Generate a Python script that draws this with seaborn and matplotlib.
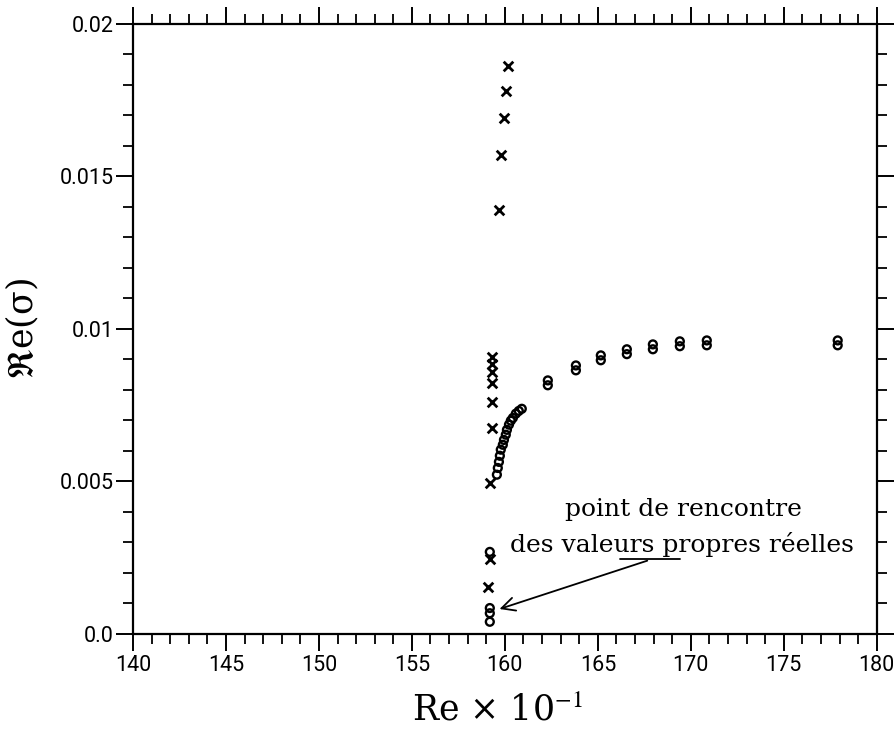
import matplotlib
matplotlib.use("Agg")
import matplotlib.pyplot as plt
from matplotlib.ticker import MultipleLocator
import seaborn as sns
import pandas as pd

# Crosses (x markers)
re_cross = [160.16, 160.05, 159.95, 159.78, 159.68,
            159.30, 159.30, 159.30, 159.30, 159.30, 159.30, 159.19,
            159.19, 159.09]
sig_cross = [0.0186, 0.0178, 0.0169, 0.0157, 0.0139,
             0.00909, 0.00886, 0.00859, 0.00823, 0.00761, 0.00676, 0.00495,
             0.00246, 0.00154]

# Circles (o markers)
re_circ = [159.57, 159.62, 159.68, 159.73, 159.78, 159.89, 159.95, 160.05,
           160.11, 160.22, 160.32, 160.43, 160.59, 160.75, 160.91,
           162.31, 162.31, 163.82, 163.82, 165.16, 165.16, 166.56, 166.56,
           167.96, 167.96, 169.41, 169.41, 170.86, 170.86, 177.90, 177.90,
           159.19, 159.19, 159.19, 159.19]
sig_circ = [0.00522, 0.00544, 0.00564, 0.00584, 0.00604, 0.00620, 0.00636, 0.00653,
            0.00669, 0.00686, 0.00699, 0.00708, 0.00722, 0.00731, 0.00738,
            0.00815, 0.00831, 0.00864, 0.00880, 0.00897, 0.00913, 0.00917, 0.00933,
            0.00933, 0.00949, 0.00943, 0.00959, 0.00946, 0.00962, 0.00946, 0.00962,
            0.00269, 0.00085, 0.00068, 0.00040]

x_ticks = [140, 145, 150, 155, 160, 165, 170, 175, 180]
y_ticks = [0.0, 0.005, 0.01, 0.015, 0.02]
y_tick_labels = ["0.0", "0.005", "0.01", "0.015", "0.02"]

sns.set_theme(style="white")
plt.rcParams['font.family'] = ['Roboto', 'DejaVu Sans']
plt.rcParams['mathtext.fontset'] = 'stix'

fig = plt.figure(figsize=(8.95, 7.47), dpi=100)
ax = fig.add_axes([0.1486, 0.1513, 0.831, 0.817])

df_c = pd.DataFrame({"re": re_cross, "sig": sig_cross})
df_o = pd.DataFrame({"re": re_circ, "sig": sig_circ})

sns.scatterplot(data=df_o, x="re", y="sig", ax=ax, marker="o", s=32,
                facecolor="none", edgecolor="black", linewidth=1.7, zorder=3)
sns.scatterplot(data=df_c, x="re", y="sig", ax=ax, marker="x", s=48,
                color="black", linewidth=2.0, zorder=4)

ax.set_xlim(140, 180)
ax.set_ylim(0, 0.02)
ax.set_xticks(x_ticks)
ax.set_xticklabels([str(t) for t in x_ticks])
ax.set_yticks(y_ticks)
ax.set_yticklabels(y_tick_labels)
ax.xaxis.set_minor_locator(MultipleLocator(1))
ax.yaxis.set_minor_locator(MultipleLocator(0.001))

ax.tick_params(axis="both", which="major", direction="out", length=12, width=1.4,
               color="black", labelsize=15.5, labelcolor="black",
               top=True, right=True, bottom=True, left=True)
ax.tick_params(axis="both", which="minor", direction="out", length=7, width=1.3,
               color="black", top=True, right=True, bottom=True, left=True)
ax.tick_params(axis="x", which="major", pad=3)
ax.tick_params(axis="y", which="major", pad=2)

for s in ax.spines.values():
    s.set_visible(True)
    s.set_color("black")
    s.set_linewidth(1.6)

serif = ['DejaVu Serif']
ax.set_xlabel("Re × 10$^{-1}$", fontsize=25, family=serif, color="black")
ax.set_ylabel("$\\mathfrak{R}$e(σ)", fontsize=25, family=serif, color="black")
ax.xaxis.set_label_coords(0.49, -0.098)
ax.yaxis.set_label_coords(-0.124, 0.5)

ax.text(169.6, 0.00407, "point de rencontre", ha="center", va="center",
        fontsize=18, family=serif, color="black")
ax.text(169.5, 0.00292, "des valeurs propres réelles", ha="center", va="center",
        fontsize=18, family=serif, color="black")
ax.plot([166.2, 169.4], [0.00246, 0.00246], color="black", lw=1.3)
ax.annotate("", xy=(159.57, 0.00079), xytext=(167.8, 0.00243),
            arrowprops=dict(arrowstyle="->", color="black", lw=1.3,
                            mutation_scale=24))

fig.savefig("out.png", dpi=100, facecolor="white")
